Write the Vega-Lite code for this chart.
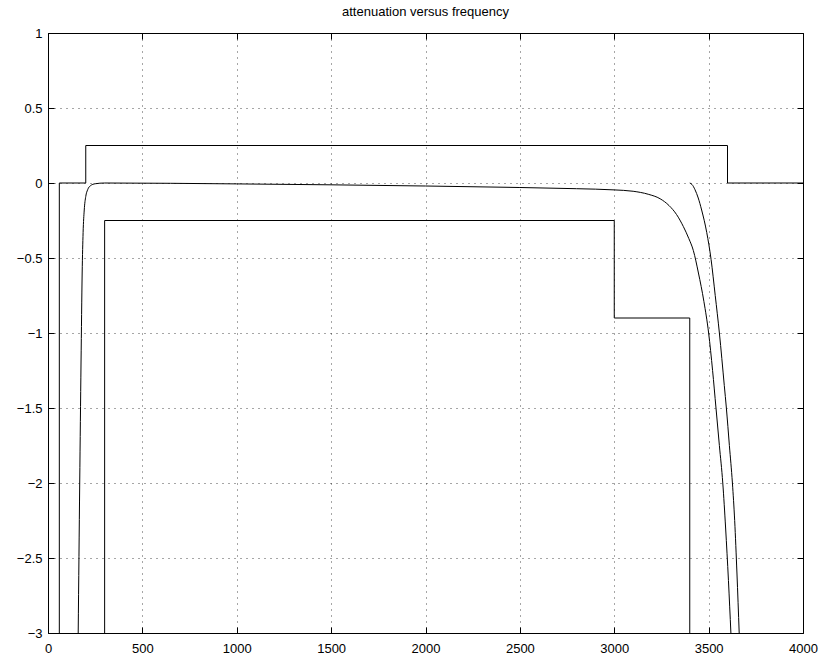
{
  "$schema": "https://vega.github.io/schema/vega-lite/v6.json",
  "width": 755,
  "height": 600,
  "autosize": {"type": "none"},
  "padding": {"left": 48, "top": 33, "right": 23, "bottom": 27},
  "background": "white",
  "config": {
    "view": {"stroke": "black", "strokeWidth": 1},
    "font": "Liberation Sans",
    "axis": {
      "labelFont": "Liberation Sans",
      "labelFontSize": 13,
      "labelColor": "black",
      "domain": false,
      "tickColor": "black",
      "tickSize": -6,
      "gridColor": "black",
      "gridDash": [1, 5],
      "gridOpacity": 0.7,
      "title": null
    },
    "title": {"font": "Liberation Sans", "fontSize": 13, "fontWeight": "normal", "color": "black", "offset": 8}
  },
  "title": "attenuation versus frequency",
  "data": {
    "values": [
      {"s": "upper", "i": 0, "x": 60, "y": -3},
      {"s": "upper", "i": 1, "x": 60, "y": 0},
      {"s": "upper", "i": 2, "x": 200, "y": 0},
      {"s": "upper", "i": 3, "x": 200, "y": 0.25},
      {"s": "upper", "i": 4, "x": 3600, "y": 0.25},
      {"s": "upper", "i": 5, "x": 3600, "y": 0},
      {"s": "upper", "i": 6, "x": 4000, "y": 0},
      {"s": "lower", "i": 0, "x": 300, "y": -3},
      {"s": "lower", "i": 1, "x": 300, "y": -0.25},
      {"s": "lower", "i": 2, "x": 3000, "y": -0.25},
      {"s": "lower", "i": 3, "x": 3000, "y": -0.9},
      {"s": "lower", "i": 4, "x": 3400, "y": -0.9},
      {"s": "lower", "i": 5, "x": 3400, "y": -3},
      {"s": "pass", "i": 0, "x": 160, "y": -3},
      {"s": "pass", "i": 1, "x": 168, "y": -2.0},
      {"s": "pass", "i": 2, "x": 175, "y": -1.2},
      {"s": "pass", "i": 3, "x": 181, "y": -0.6},
      {"s": "pass", "i": 4, "x": 186, "y": -0.33},
      {"s": "pass", "i": 5, "x": 192, "y": -0.18},
      {"s": "pass", "i": 6, "x": 200, "y": -0.09},
      {"s": "pass", "i": 7, "x": 210, "y": -0.045},
      {"s": "pass", "i": 8, "x": 225, "y": -0.018},
      {"s": "pass", "i": 9, "x": 250, "y": -0.005},
      {"s": "pass", "i": 10, "x": 300, "y": 0},
      {"s": "pass", "i": 11, "x": 1000, "y": -0.006},
      {"s": "pass", "i": 12, "x": 2000, "y": -0.02},
      {"s": "pass", "i": 13, "x": 2500, "y": -0.03},
      {"s": "pass", "i": 14, "x": 2800, "y": -0.038},
      {"s": "pass", "i": 15, "x": 3000, "y": -0.046},
      {"s": "pass", "i": 16, "x": 3100, "y": -0.055},
      {"s": "pass", "i": 17, "x": 3180, "y": -0.075},
      {"s": "pass", "i": 18, "x": 3243, "y": -0.105},
      {"s": "pass", "i": 19, "x": 3290, "y": -0.15},
      {"s": "pass", "i": 20, "x": 3330, "y": -0.21},
      {"s": "pass", "i": 21, "x": 3366, "y": -0.29},
      {"s": "pass", "i": 22, "x": 3395, "y": -0.37},
      {"s": "pass", "i": 23, "x": 3419, "y": -0.45},
      {"s": "pass", "i": 24, "x": 3446, "y": -0.6},
      {"s": "pass", "i": 25, "x": 3475, "y": -0.79},
      {"s": "pass", "i": 26, "x": 3500, "y": -1.0},
      {"s": "pass", "i": 27, "x": 3521, "y": -1.25},
      {"s": "pass", "i": 28, "x": 3539, "y": -1.5},
      {"s": "pass", "i": 29, "x": 3557, "y": -1.75},
      {"s": "pass", "i": 30, "x": 3575, "y": -2.0},
      {"s": "pass", "i": 31, "x": 3590, "y": -2.3},
      {"s": "pass", "i": 32, "x": 3605, "y": -2.65},
      {"s": "pass", "i": 33, "x": 3618, "y": -3},
      {"s": "stop", "i": 0, "x": 3400, "y": 0},
      {"s": "stop", "i": 1, "x": 3412, "y": -0.01},
      {"s": "stop", "i": 2, "x": 3428, "y": -0.045},
      {"s": "stop", "i": 3, "x": 3445, "y": -0.1},
      {"s": "stop", "i": 4, "x": 3463, "y": -0.18},
      {"s": "stop", "i": 5, "x": 3490, "y": -0.33},
      {"s": "stop", "i": 6, "x": 3513, "y": -0.51},
      {"s": "stop", "i": 7, "x": 3535, "y": -0.75},
      {"s": "stop", "i": 8, "x": 3557, "y": -1.0},
      {"s": "stop", "i": 9, "x": 3583, "y": -1.35},
      {"s": "stop", "i": 10, "x": 3594, "y": -1.5},
      {"s": "stop", "i": 11, "x": 3610, "y": -1.75},
      {"s": "stop", "i": 12, "x": 3626, "y": -2.0},
      {"s": "stop", "i": 13, "x": 3638, "y": -2.25},
      {"s": "stop", "i": 14, "x": 3650, "y": -2.6},
      {"s": "stop", "i": 15, "x": 3662, "y": -3}
    ]
  },
  "encoding": {
    "x": {"field": "x", "type": "quantitative", "scale": {"domain": [0, 4000], "nice": false, "zero": false}},
    "y": {"field": "y", "type": "quantitative", "scale": {"domain": [-3, 1], "nice": false, "zero": false}},
    "detail": {"field": "s"},
    "order": {"field": "i", "type": "quantitative"}
  },
  "layer": [
    {
      "transform": [{"filter": "datum.s === 'upper' || datum.s === 'lower'"}],
      "mark": {"type": "line", "color": "black", "strokeWidth": 1, "clip": true, "interpolate": "linear"},
      "encoding": {
        "x": {"field": "x", "type": "quantitative",
              "axis": {"orient": "bottom", "values": [0,500,1000,1500,2000,2500,3000,3500,4000], "format": "d", "grid": true, "labelPadding": 15, "labelFlush": false}},
        "y": {"field": "y", "type": "quantitative",
              "axis": {"orient": "left", "values": [-3,-2.5,-2,-1.5,-1,-0.5,0,0.5,1], "format": "~g", "grid": true, "labelPadding": 12, "labelFlush": false}}
      }
    },
    {
      "transform": [{"filter": "datum.s === 'pass' || datum.s === 'stop'"}],
      "mark": {"type": "line", "color": "black", "strokeWidth": 1, "clip": true, "interpolate": "monotone"},
      "encoding": {
        "x": {"field": "x", "type": "quantitative", "axis": {"orient": "top", "values": [0,500,1000,1500,2000,2500,3000,3500,4000], "labels": false, "grid": false}},
        "y": {"field": "y", "type": "quantitative", "axis": {"orient": "right", "values": [-3,-2.5,-2,-1.5,-1,-0.5,0,0.5,1], "labels": false, "grid": false}}
      }
    }
  ]
}
